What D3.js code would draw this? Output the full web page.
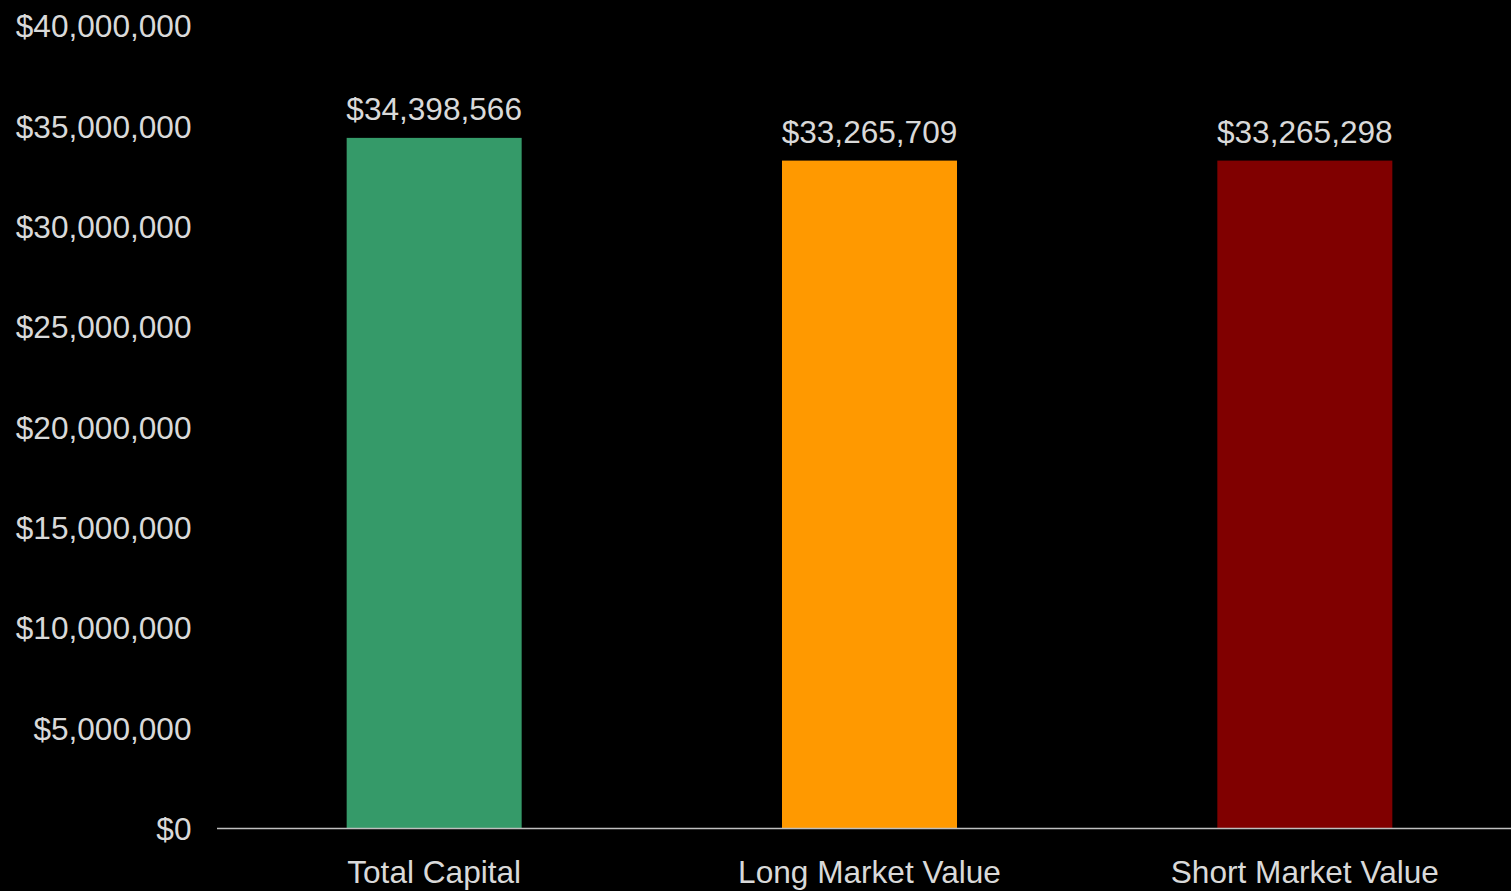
<!DOCTYPE html>
<html>
<head>
<meta charset="utf-8">
<script src="https://cdn.jsdelivr.net/npm/d3@7"></script>
<style>
  html, body { margin: 0; padding: 0; background: #000; }
  svg { display: block; }
  text { font-family: "Liberation Sans", Arial, sans-serif; }
</style>
</head>
<body>
<script>
// Portfolio summary values
const categories = ["Total Capital", "Long Market Value", "Short Market Value"];
const values = [34398566, 33265709, 33265298];
const barColors = ["#359a69", "#ff9900", "#800000"];
const yTicks = [0, 5000000, 10000000, 15000000, 20000000, 25000000, 30000000, 35000000, 40000000];

const width = 1511, height = 891;
const textColor = "#d9d9d9";
const fontSize = 31.6;
const fontFamily = "'Liberation Sans', Arial, sans-serif";

const svg = d3.select("body").append("svg")
  .attr("width", width)
  .attr("height", height)
  .style("background", "#000");

const x = d3.scaleBand()
  .domain(categories)
  .range([216.5, 1522.5])
  .paddingInner(0.598)
  .paddingOuter(0.299);

const y = d3.scaleLinear()
  .domain([0, 40000000])
  .range([828, 25.5]);

const fmt = d3.format("$,");

// bars
svg.append("g").selectAll("rect")
  .data(values)
  .join("rect")
  .attr("x", (d, i) => x(categories[i]))
  .attr("width", x.bandwidth())
  .attr("y", d => y(d))
  .attr("height", d => y(0) - y(d))
  .attr("fill", (d, i) => barColors[i]);

// value labels above bars
svg.append("g").selectAll("text")
  .data(values)
  .join("text")
  .attr("x", (d, i) => x(categories[i]) + x.bandwidth() / 2)
  .attr("y", d => y(d) - 18)
  .attr("text-anchor", "middle")
  .attr("fill", textColor)
  .style("font-size", fontSize + "px")
  .style("font-family", fontFamily)
  .text(d => fmt(d));

// y axis
const yAxis = svg.append("g")
  .attr("transform", "translate(216.5,0)")
  .call(d3.axisLeft(y).tickValues(yTicks).tickFormat(fmt).tickSize(0).tickPadding(25));
yAxis.select(".domain").remove();
yAxis.selectAll("text")
  .attr("fill", textColor)
  .attr("dy", "0.36em")
  .style("font-size", fontSize + "px")
  .style("font-family", fontFamily);

// x axis
const xAxis = svg.append("g")
  .attr("transform", `translate(0,${y(0)})`)
  .call(d3.axisBottom(x).tickSize(0).tickPadding(33));
xAxis.select(".domain").attr("stroke", "#bfbfbf").attr("stroke-width", 1.5);
xAxis.selectAll("text")
  .attr("fill", textColor)
  .style("font-size", fontSize + "px")
  .style("font-family", fontFamily);
</script>
</body>
</html>
